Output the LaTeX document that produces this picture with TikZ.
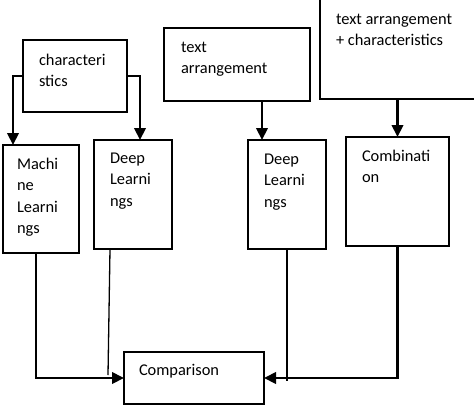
\documentclass[tikz,border=0pt]{standalone}
\usepackage{fontspec}
\setmainfont{Carlito}
\usetikzlibrary{arrows.meta,calc}
\begin{document}
\begin{tikzpicture}[x=1pt,y=-1pt,
 box/.style={draw,line width=1.6pt,rectangle,inner sep=0pt,outer sep=0pt,anchor=north west},
 txt/.style={inner sep=0pt,outer sep=0pt,align=left,anchor=north west,font=\fontsize{16.4}{21.5}\selectfont},
 arr/.style={line width=2.1pt,-{Triangle[length=12pt,width=11.5pt]}},
 thinline/.style={line width=1.3pt}]
\useasboundingbox (0,0) rectangle (474,405);
\fill[white] (0,0) rectangle (474,405);
\clip (0,0) rectangle (474,405);
% boxes
\node[box,minimum width=104pt,minimum height=72pt] (C) at (23,40) {};
\node[box,minimum width=76pt,minimum height=108pt] (ML) at (3,145) {};
\node[box,minimum width=78pt,minimum height=109pt] (DL1) at (94,140) {};
\node[box,minimum width=146pt,minimum height=73pt] (TA) at (164,28) {};
\node[box,minimum width=170pt,minimum height=109pt] (TAC) at (320,-10) {};
\node[box,minimum width=78pt,minimum height=109pt] (DL2) at (248,140) {};
\node[box,minimum width=103pt,minimum height=109pt] (Comb) at (346,137) {};
\node[box,minimum width=140pt,minimum height=52pt] (Cmp) at (124,352) {};
% texts
\node[txt] (tC) at (39,50) {\strut characteri\\stics};
\node[txt] (tML) at (17,154) {\strut Machi\\ne\\Learni\\ngs};
\node[txt] (tDL1) at (110,148) {\strut Deep\\Learni\\ngs};
\node[txt] (tTA) at (181,37) {\strut text\\arrangement};
\node[txt] (tTAC) at (336,9) {\strut text arrangement\\+ characteristics};
\node[txt] (tDL2) at (264,149) {\strut Deep\\Learni\\ngs};
\node[txt] (tComb) at (362,146) {\strut Combinati\\on};
\node[txt] (tCmp) at (139,360) {\strut Comparison};
% connectors
\draw[arr] (C.west) -| ([xshift=-28pt]ML.north);
\draw[arr] (C.east) -| ([xshift=7pt]DL1.north);
\coordinate (a3) at ([xshift=-25pt]DL2.north);
\draw[arr] (TA.south -| a3) -- (a3);
\draw[arr] (TAC.south -| Comb.north) -- (Comb.north);
\draw[arr] ([xshift=-5pt]ML.south) |- (Cmp.west);
\draw[arr] (Comb.south) |- (Cmp.east);
\coordinate (e1) at (108,375);
\draw[thinline] ([xshift=-23pt]DL1.south) -- (e1);
\coordinate (e2) at (287,381);
\draw[thinline] (DL2.south) -- (e2);
\end{tikzpicture}
\end{document}
